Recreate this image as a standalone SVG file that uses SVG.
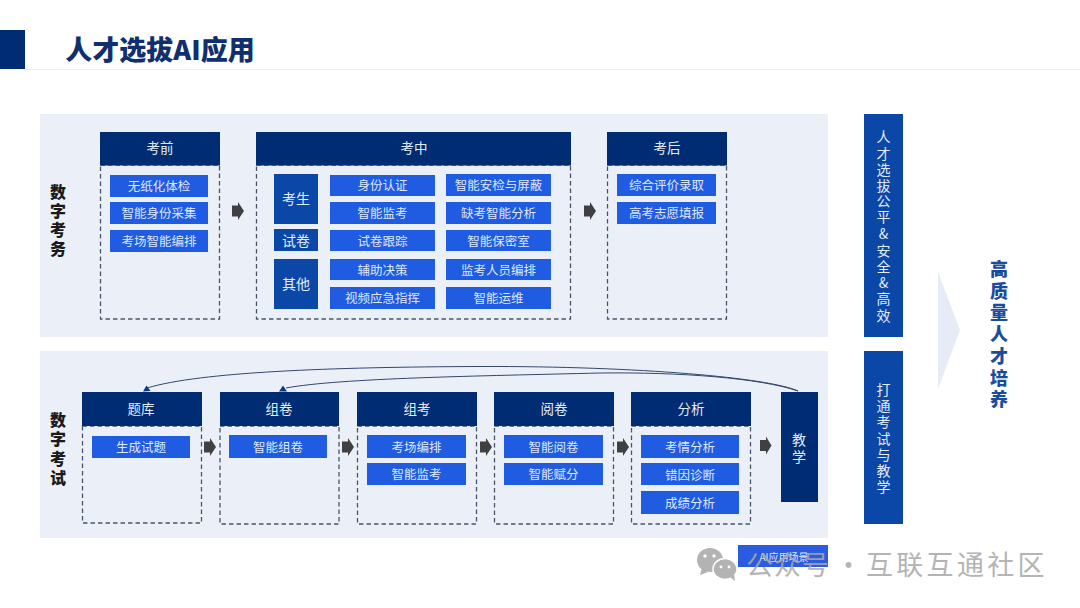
<svg xmlns="http://www.w3.org/2000/svg" width="1080" height="608" viewBox="0 0 1080 608">
<style>
text{font-family:"Noto Sans CJK SC","Liberation Sans",sans-serif;text-anchor:middle}
.panel{fill:#ebf0f8}
.hd{fill:#002c73}
.dash{fill:none;stroke:#4a5568;stroke-width:1.3;stroke-dasharray:4.5 3}
.it{fill:#1f5ce2}
.sub{fill:#0a47a6}
.ht{font-size:13.5px;fill:#e4ecf8}
.tt{font-size:12.5px;fill:#dfe8fa}
.st{font-size:14px;fill:#e4ecf8}
.lab{font-size:16px;font-weight:900;fill:#1a1a1a}
.bar{font-size:14px;fill:#e4ecf8}
.arr{fill:#404040}
.conn{fill:none;stroke:#33476b;stroke-width:1}
.tip{fill:#0c3a80}
</style>
<g id="title">
<rect x="0" y="30" width="25" height="39" fill="#002c73"/>
<line x1="25" y1="69.5" x2="1080" y2="69.5" stroke="#eeeeee" stroke-width="1"/>
<text x="160" y="60" style="font-size:27px;font-weight:900;fill:#0f2f6e">人才选拔AI应用</text>
</g>
<g id="panels">
<rect class="panel" x="40" y="114" width="788" height="223"/>
<rect class="panel" x="40" y="351" width="788" height="187"/>
</g>
<g id="label-digital-affairs">
<text class="lab"><tspan x="58" y="198">数</tspan><tspan x="58" y="217">字</tspan><tspan x="58" y="236">考</tspan><tspan x="58" y="255">务</tspan></text>
</g>
<g id="label-digital-exam">
<text class="lab"><tspan x="58" y="426">数</tspan><tspan x="58" y="445">字</tspan><tspan x="58" y="465">考</tspan><tspan x="58" y="484">试</tspan></text>
</g>
<g id="before">
<rect class="dash" x="100.500" y="165" width="119" height="154"/>
<rect class="hd" x="100" y="132" width="120" height="33.500"/>
<text class="ht" x="160" y="153">考前</text>
<rect class="it" x="110" y="175" width="98" height="22"/><text class="tt" x="159" y="190.500">无纸化体检</text>
<rect class="it" x="110" y="202" width="98" height="22"/><text class="tt" x="159" y="218">智能身份采集</text>
<rect class="it" x="110" y="230" width="98" height="22"/><text class="tt" x="159" y="246">考场智能编排</text>
</g>
<g id="during">
<rect class="dash" x="256.500" y="165" width="314" height="154"/>
<rect class="hd" x="256" y="132" width="315" height="33.500"/>
<text class="ht" x="414" y="153">考中</text>
<rect class="sub" x="274" y="174" width="44" height="50"/><text class="st" x="296" y="204">考生</text>
<rect class="sub" x="274" y="229" width="44" height="22"/><text class="st" x="296" y="246">试卷</text>
<rect class="sub" x="274" y="259" width="44" height="50"/><text class="st" x="296" y="289">其他</text>
<rect class="it" x="330" y="175" width="105" height="21"/><text class="tt" x="382.500" y="190">身份认证</text>
<rect class="it" x="330" y="202" width="105" height="22"/><text class="tt" x="382.500" y="218">智能监考</text>
<rect class="it" x="330" y="230" width="105" height="21"/><text class="tt" x="382.500" y="246">试卷跟踪</text>
<rect class="it" x="330" y="259" width="105" height="21"/><text class="tt" x="382.500" y="275">辅助决策</text>
<rect class="it" x="330" y="287" width="105" height="22"/><text class="tt" x="382.500" y="303">视频应急指挥</text>
<rect class="it" x="446" y="174" width="105" height="22"/><text class="tt" x="498.500" y="190">智能安检与屏蔽</text>
<rect class="it" x="446" y="202" width="105" height="22"/><text class="tt" x="498.500" y="218">缺考智能分析</text>
<rect class="it" x="446" y="230" width="105" height="21"/><text class="tt" x="498.500" y="246">智能保密室</text>
<rect class="it" x="446" y="259" width="105" height="21"/><text class="tt" x="498.500" y="275">监考人员编排</text>
<rect class="it" x="446" y="287" width="105" height="22"/><text class="tt" x="498.500" y="303">智能运维</text>
</g>
<g id="after">
<rect class="dash" x="607.500" y="165" width="119" height="154"/>
<rect class="hd" x="607" y="132" width="120" height="33.500"/>
<text class="ht" x="667" y="153">考后</text>
<rect class="it" x="617" y="174" width="99" height="22"/><text class="tt" x="666.500" y="190">综合评价录取</text>
<rect class="it" x="617" y="202" width="99" height="22"/><text class="tt" x="666.500" y="218">高考志愿填报</text>
</g>
<g id="bank">
<rect class="dash" x="82.500" y="426" width="119" height="97"/>
<rect class="hd" x="82" y="392" width="120" height="34"/>
<text class="ht" x="141" y="414">题库</text>
<rect class="it" x="92" y="436" width="98" height="22"/><text class="tt" x="141" y="452">生成试题</text>
</g>
<g id="compose">
<rect class="dash" x="220" y="426" width="119" height="98"/>
<rect class="hd" x="220" y="392" width="119" height="34"/>
<text class="ht" x="279" y="414">组卷</text>
<rect class="it" x="229" y="435" width="98" height="23"/><text class="tt" x="278" y="452">智能组卷</text>
</g>
<g id="organise">
<rect class="dash" x="357.500" y="426" width="119" height="98"/>
<rect class="hd" x="357" y="392" width="120" height="34"/>
<text class="ht" x="417" y="414">组考</text>
<rect class="it" x="367" y="435" width="99" height="23"/><text class="tt" x="416.500" y="452">考场编排</text>
<rect class="it" x="367" y="463" width="99" height="22"/><text class="tt" x="416.500" y="479">智能监考</text>
</g>
<g id="marking">
<rect class="dash" x="494.500" y="426" width="119" height="98"/>
<rect class="hd" x="494" y="392" width="120" height="34"/>
<text class="ht" x="554" y="414">阅卷</text>
<rect class="it" x="504" y="435" width="99" height="23"/><text class="tt" x="553.500" y="452">智能阅卷</text>
<rect class="it" x="504" y="463" width="99" height="22"/><text class="tt" x="553.500" y="479">智能赋分</text>
</g>
<g id="analysis">
<rect class="dash" x="631.500" y="426" width="119" height="98"/>
<rect class="hd" x="631" y="392" width="120" height="34"/>
<text class="ht" x="691" y="414">分析</text>
<rect class="it" x="641" y="435" width="98" height="23"/><text class="tt" x="690" y="452">考情分析</text>
<rect class="it" x="641" y="463" width="98" height="22"/><text class="tt" x="690" y="480">错因诊断</text>
<rect class="it" x="641" y="491" width="98" height="23"/><text class="tt" x="690" y="508">成绩分析</text>
</g>
<g id="teaching">
<rect class="hd" x="781" y="392" width="37" height="110"/>
<text class="st"><tspan x="799" y="445">教</tspan><tspan x="799" y="462">学</tspan></text>
</g>
<g id="connectors">
<path class="arr" d="M232 205.500h6v-3.500l6 9-6 9v-3.500h-6z"/>
<path class="arr" d="M584 205.500h6v-3.500l6 9-6 9v-3.500h-6z"/>
<path class="arr" d="M204 441.500h6v-3.500l6 9-6 9v-3.500h-6z"/>
<path class="arr" d="M342 441.500h6v-3.500l6 9-6 9v-3.500h-6z"/>
<path class="arr" d="M480 441.500h6v-3.500l6 9-6 9v-3.500h-6z"/>
<path class="arr" d="M617 441.500h6v-3.500l6 9-6 9v-3.500h-6z"/>
<path class="arr" d="M760 440h6v-3.500l5.500 9-5.500 9v-3.500h-6z"/>
<path class="conn" d="M798 391C770 378 640 366 480 366.500C330 367 200 372 147 388"/>
<path class="conn" d="M798 391C760 378 680 372 600 373C480 376 340 378 286 388"/>
<path class="tip" d="M143 391.500l3.500-6 4 5.500z"/>
<path class="tip" d="M279 391.500l4-6 4 6z"/>
</g>
<g id="bar-fair">
<rect class="sub" x="864" y="114" width="39" height="223"/>
<text class="bar"><tspan x="883.500" y="142">人</tspan><tspan x="883.500" y="159">才</tspan><tspan x="883.500" y="175">选</tspan><tspan x="883.500" y="191">拔</tspan><tspan x="883.500" y="206">公</tspan><tspan x="883.500" y="222">平</tspan><tspan x="883.500" y="239">&amp;</tspan><tspan x="883.500" y="256">安</tspan><tspan x="883.500" y="272">全</tspan><tspan x="883.500" y="288">&amp;</tspan><tspan x="883.500" y="304">高</tspan><tspan x="883.500" y="321">效</tspan></text>
</g>
<g id="bar-link">
<rect class="sub" x="864" y="351" width="39" height="173"/>
<text class="bar"><tspan x="883.500" y="395">打</tspan><tspan x="883.500" y="411">通</tspan><tspan x="883.500" y="427">考</tspan><tspan x="883.500" y="444">试</tspan><tspan x="883.500" y="460">与</tspan><tspan x="883.500" y="476">教</tspan><tspan x="883.500" y="492">学</tspan></text>
</g>
<g id="outcome-arrow">
<path d="M938 272L960 330L938 389z" fill="#e6ecf6"/>
</g>
<g id="outcome">
<text style="font-size:18px;font-weight:900;fill:#1a4c9e"><tspan x="999" y="276">高</tspan><tspan x="999" y="298">质</tspan><tspan x="999" y="319">量</tspan><tspan x="999" y="341">人</tspan><tspan x="999" y="363">才</tspan><tspan x="999" y="385">培</tspan><tspan x="999" y="406">养</tspan></text>
</g>
<g id="legend">
<rect x="738" y="545" width="90" height="22" fill="#2a5be0"/>
<text x="784" y="561" style="font-size:10px;fill:#dfe8fa">AI应用场景</text>
</g>
<g id="watermark" opacity="0.85">
<ellipse cx="710" cy="560" rx="13" ry="12" fill="#a6a6a6"/>
<path d="M702 568l-2 7 8-3z" fill="#a6a6a6"/>
<ellipse cx="725" cy="569" rx="12" ry="10.500" fill="#a6a6a6" stroke="#ffffff" stroke-width="1.500"/>
<path d="M730 577l5 4-1-7z" fill="#a6a6a6"/>
<circle cx="705" cy="556" r="1.700" fill="#fff"/><circle cx="714" cy="556" r="1.700" fill="#fff"/>
<circle cx="721" cy="567" r="1.400" fill="#fff"/><circle cx="729" cy="567" r="1.400" fill="#fff"/>
<text x="746" y="575" style="font-size:27px;letter-spacing:1px;fill:#a8a8a8;text-anchor:start">公众号<tspan x="835">·</tspan><tspan x="866" style="letter-spacing:3.300px">互联互通社区</tspan></text>
</g>
</svg>
